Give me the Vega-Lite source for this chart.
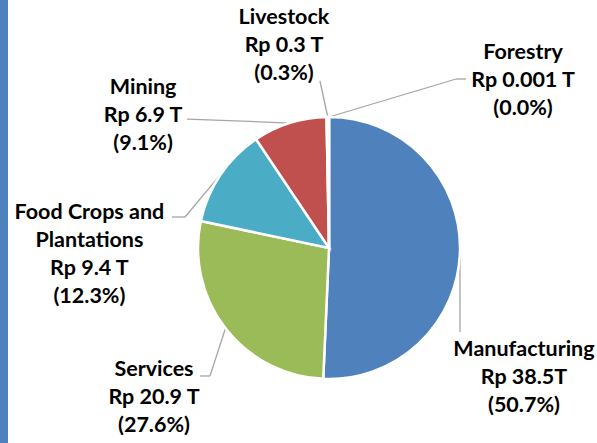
{
  "$schema": "https://vega.github.io/schema/vega-lite/v6.json",
  "background": "white",
  "autosize": "none",
  "padding": {"left": 61, "top": 53, "right": 0, "bottom": 0},
  "width": 536,
  "height": 390,
  "config": {"view": {"stroke": null}},
  "data": {
    "values": [
      {"rank": 1, "sector": "Manufacturing", "value": 38.5, "pct": 50.7, "label": "Manufacturing\nRp 38.5T\n(50.7%)"},
      {"rank": 2, "sector": "Services", "value": 20.9, "pct": 27.6, "label": "Services\nRp 20.9 T\n(27.6%)"},
      {"rank": 3, "sector": "Food Crops and Plantations", "value": 9.4, "pct": 12.3, "label": "Food Crops and\nPlantations\nRp 9.4 T\n(12.3%)"},
      {"rank": 4, "sector": "Mining", "value": 6.9, "pct": 9.1, "label": "Mining\nRp 6.9 T\n(9.1%)"},
      {"rank": 5, "sector": "Livestock", "value": 0.3, "pct": 0.3, "label": "Livestock\nRp 0.3 T\n(0.3%)"},
      {"rank": 6, "sector": "Forestry", "value": 0.001, "pct": 0.0, "label": "Forestry\nRp 0.001 T\n(0.0%)"}
    ]
  },
  "layer": [
    {
      "data": {"values": [{}]},
      "mark": {"type": "rect", "fill": "#4F81BD"},
      "encoding": {
        "x": {"value": {"expr": "-padding.left"}},
        "x2": {"value": {"expr": "8 - padding.left"}},
        "y": {"value": {"expr": "-padding.top"}},
        "y2": {"value": {"expr": "height + padding.bottom"}}
      }
    },
    {
      "transform": [
        {"stack": "pct", "groupby": [], "sort": [{"field": "rank", "order": "ascending"}], "as": ["p0", "p1"]}
      ],
      "mark": {"type": "rule", "stroke": "#A5A5A5", "strokeWidth": 1.3},
      "encoding": {
        "x": {"value": {"expr": "width/2 + 131*sin(PI*(datum.p0+datum.p1)/100)"}},
        "y": {"value": {"expr": "height/2 - 131*cos(PI*(datum.p0+datum.p1)/100)"}},
        "x2": {"value": {"expr": "width/2 + 131*sin(PI*(datum.p0+datum.p1)/100) + (datum.sector === 'Manufacturing' ? 0 : datum.sector === 'Services' ? -15.5 : datum.sector === 'Mining' ? -102.6 : datum.sector === 'Livestock' ? -7.8 : datum.sector === 'Forestry' ? 127 : -35.4)"}},
        "y2": {"value": {"expr": "height/2 - 131*cos(PI*(datum.p0+datum.p1)/100) + (datum.sector === 'Manufacturing' ? 81 : datum.sector === 'Services' ? 47.7 : datum.sector === 'Mining' ? -4 : datum.sector === 'Livestock' ? -36 : datum.sector === 'Forestry' ? -38 : 42.3)"}}
      }
    },
    {
      "transform": [
        {"stack": "pct", "groupby": [], "sort": [{"field": "rank", "order": "ascending"}], "as": ["p0", "p1"]},
        {"filter": "datum.sector === 'Services' || datum.sector === 'Food Crops and Plantations' || datum.sector === 'Forestry'"}
      ],
      "mark": {"type": "rule", "stroke": "#A5A5A5", "strokeWidth": 1.3},
      "encoding": {
        "x": {"value": {"expr": "width/2 + 131*sin(PI*(datum.p0+datum.p1)/100) + (datum.sector === 'Services' ? -15.5 : datum.sector === 'Forestry' ? 127 : -35.4)"}},
        "y": {"value": {"expr": "height/2 - 131*cos(PI*(datum.p0+datum.p1)/100) + (datum.sector === 'Services' ? 47.7 : datum.sector === 'Forestry' ? -38 : 42.3)"}},
        "x2": {"value": {"expr": "width/2 + 131*sin(PI*(datum.p0+datum.p1)/100) + (datum.sector === 'Services' ? -25.5 : datum.sector === 'Forestry' ? 137 : -48.4)"}},
        "y2": {"value": {"expr": "height/2 - 131*cos(PI*(datum.p0+datum.p1)/100) + (datum.sector === 'Services' ? 47.7 : datum.sector === 'Forestry' ? -38 : 42.3)"}}
      }
    },
    {
      "mark": {"type": "arc", "outerRadius": 131, "stroke": "white", "strokeWidth": 2.5},
      "encoding": {
        "theta": {"field": "pct", "type": "quantitative", "stack": true},
        "order": {"field": "rank", "type": "quantitative"},
        "color": {
          "field": "sector",
          "type": "nominal",
          "legend": null,
          "scale": {
            "domain": ["Manufacturing", "Services", "Food Crops and Plantations", "Mining", "Livestock", "Forestry"],
            "range": ["#4F81BD", "#9BBB59", "#4BACC6", "#C0504D", "#8064A2", "#F79646"]
          }
        }
      }
    },
    {
      "mark": {
        "type": "text",
        "radius": 131,
        "font": "Lato",
        "fontSize": 21.5,
        "fontWeight": "bold",
        "lineBreak": "\n",
        "lineHeight": 28,
        "align": "center",
        "baseline": "middle",
        "fill": "#000000",
        "dx": {"expr": "datum.sector === 'Manufacturing' ? 64 : datum.sector === 'Services' ? -71.5 : datum.sector === 'Mining' ? -146.6 : datum.sector === 'Livestock' ? -43.8 : datum.sector === 'Forestry' ? 194 : -131"},
        "dy": {"expr": "datum.sector === 'Manufacturing' ? 99 : datum.sector === 'Services' ? 41.7 : datum.sector === 'Mining' ? -35.3 : datum.sector === 'Livestock' ? -99.2 : datum.sector === 'Forestry' ? -64.4 : 38.3"}
      },
      "encoding": {
        "theta": {"field": "pct", "type": "quantitative", "stack": true},
        "order": {"field": "rank", "type": "quantitative"},
        "detail": {"field": "sector", "type": "nominal"},
        "text": {"field": "label", "type": "nominal"}
      }
    }
  ]
}
